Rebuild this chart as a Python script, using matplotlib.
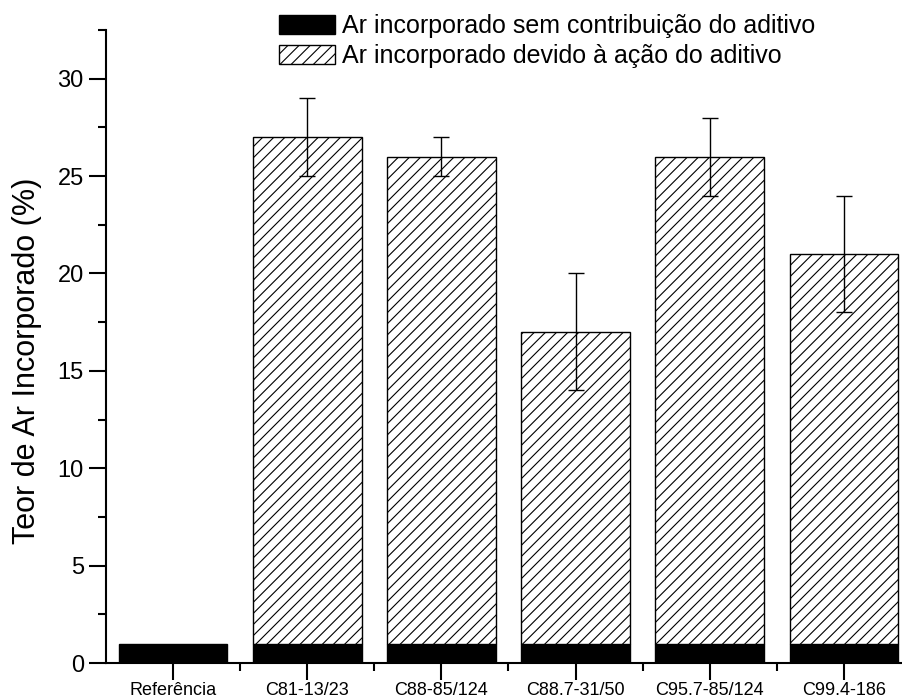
import numpy as np
import matplotlib
matplotlib.use("Agg")
import matplotlib.pyplot as plt
from matplotlib.ticker import MultipleLocator, FixedLocator

plt.rcParams['font.family'] = ['Liberation Sans', 'DejaVu Sans']
plt.rcParams['hatch.linewidth'] = 0.8

# data
categories = ["Referência", "C81-13/23", "C88-85/124", "C88.7-31/50",
              "C95.7-85/124", "C99.4-186"]
base_air = [1, 1, 1, 1, 1, 1]
total_air = [1, 27, 26, 17, 26, 21]
total_err = [0, 2, 1, 3, 2, 3]
additive_air = [t - b for t, b in zip(total_air, base_air)]

fig = plt.figure(figsize=(9.02, 7.0), dpi=100)
ax = fig.add_axes([106 / 902, 37 / 700, 805 / 902, 633 / 700])

x = np.arange(len(categories))
width = 0.81

ax.bar(x, base_air, width, color="black", edgecolor="black", linewidth=1,
       label="Ar incorporado sem contribuição do aditivo")
# additive part (skip the reference, which has none)
ax.bar(x[1:], additive_air[1:], width, bottom=base_air[1:], color="white",
       edgecolor="black", linewidth=1, hatch="///",
       label="Ar incorporado devido à ação do aditivo")
ax.errorbar(x[1:], total_air[1:], yerr=total_err[1:], fmt="none",
            ecolor="black", elinewidth=1, capsize=6, capthick=1)

ax.set_xlim(-0.5, len(categories) - 0.5)
ax.set_ylim(0, 32.5)

for side in ["top", "right"]:
    ax.spines[side].set_visible(False)
for side in ["left", "bottom"]:
    ax.spines[side].set_linewidth(1.5)

ax.set_xticks(x)
ax.set_xticklabels(categories, fontsize=13)
ax.xaxis.set_minor_locator(FixedLocator(x[:-1] + 0.5))
ax.yaxis.set_major_locator(MultipleLocator(5))
ax.yaxis.set_minor_locator(MultipleLocator(2.5))
ax.tick_params(axis="both", which="major", direction="out", length=12,
               width=1.5, color="black")
ax.tick_params(axis="both", which="minor", direction="out", length=6,
               width=1.5, color="black")
ax.tick_params(axis="y", labelsize=17, pad=4)
ax.tick_params(axis="x", pad=2)

ax.set_ylabel("Teor de Ar Incorporado (%)", fontsize=22)
ax.yaxis.set_label_coords(-0.08, 0.478)

ax.legend(loc="upper left", bbox_to_anchor=(0.202, 1.041), frameon=False,
          fontsize=18, handlelength=2.25, handleheight=0.8, handletextpad=0.28,
          labelspacing=0.25, borderaxespad=0)

fig.savefig("out.png", dpi=100)
